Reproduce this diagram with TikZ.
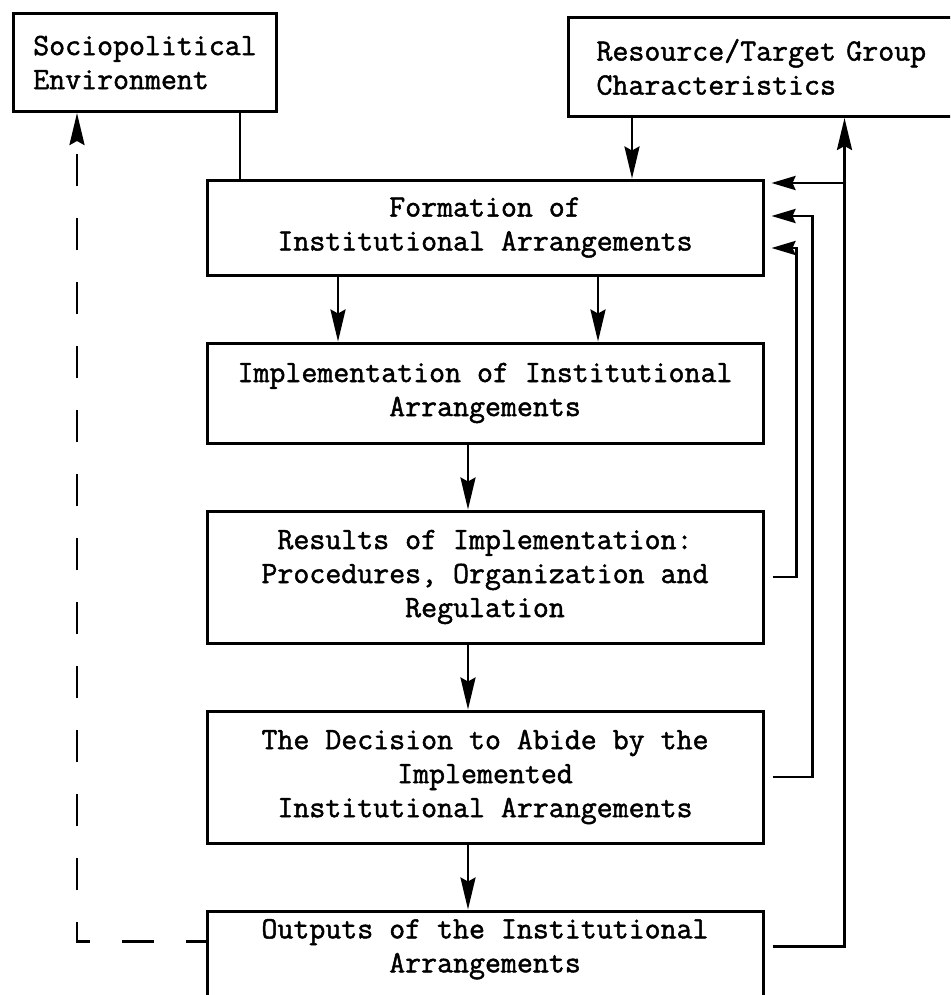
\documentclass[tikz,border=0pt]{standalone}
\usepackage{fontspec}
\newfontfamily\typewr{Latin Modern Mono}[FakeBold=1.5]
\usetikzlibrary{positioning,arrows.meta}

\begin{document}
\begin{tikzpicture}[x=0.5pt,y=-0.5pt,>={Stealth[length=16pt,width=7.5pt,inset=2pt]},
   line width=1.4pt,node distance=32.5pt,
   every node/.style={font=\typewr\fontsize{15.5pt}{17pt}\selectfont},
   stage/.style={draw,line width=1.5pt,minimum width=278pt,align=center,inner sep=4pt},
   factor/.style={draw,line width=1.5pt,align=left,anchor=north west},
   fb/.style={->,shorten <=4pt,shorten >=3.5pt,>={Stealth[length=12pt,width=7pt,inset=1.5pt]}},
   dashback/.style={dash pattern=on 16pt off 16pt,dash phase=6pt}]
 \useasboundingbox (0,0) rectangle (950,995);
 \clip (0,0) rectangle (950,995);
 % outside factors
 \node[factor,minimum width=131.5pt,minimum height=49pt] (socio) at (12,12) {Sociopolitical\\Environment};
 \node[factor,text width=182pt,inner xsep=14pt,minimum height=49.5pt] (resource) at (567,16) {Resource/Target Group\\Characteristics};
 % main chain
 \node[stage,minimum height=47.5pt] (formation) at (485,227.5) {Formation of\\Institutional Arrangements};
 \node[stage,minimum height=50pt,below=of formation] (impl) {Implementation of Institutional\\Arrangements};
 \node[stage,minimum height=66pt,below=of impl] (results) {Results of Implementation:\\Procedures, Organization and\\Regulation};
 \node[stage,minimum height=66pt,below=of results] (decision) {The Decision to Abide by the\\Implemented\\Institutional Arrangements};
 \node[stage,minimum height=47pt,below=of decision] (outputs) {Outputs of the Institutional\\Arrangements\vphantom{\strut}\\[-4pt]};
 % feedback columns
 \coordinate (col1) at ([xshift=16pt]formation.east);
 \coordinate (col2) at ([xshift=24pt]formation.east);
 \coordinate (col3) at ([xshift=40pt]formation.east);
 \coordinate (fbtop) at ([yshift=22.25pt]formation.east);
 \coordinate (dl) at ([xshift=32.5pt]socio.south west);
 \draw ([xshift=-122.5pt]formation.north |- socio.south) -- ([xshift=-122.5pt]formation.north);
 \draw[->] ([xshift=73.5pt]formation.north |- resource.south) -- ([xshift=73.5pt]formation.north);
 \draw[->] ([xshift=-73.5pt]formation.south) -- ([xshift=-73.5pt]impl.north);
 \draw[->] ([xshift=56.5pt]formation.south) -- ([xshift=56.5pt]impl.north);
 \draw[->] ([xshift=-8.5pt]impl.south) -- ([xshift=-8.5pt]results.north);
 \draw[->] ([xshift=-8.5pt]results.south) -- ([xshift=-8.5pt]decision.north);
 \draw[->] ([xshift=-8.5pt]decision.south) -- ([xshift=-8.5pt]outputs.north);
 \draw[fb] (results.east) -- (results.east -| col1) |- ([yshift=-10.25pt]formation.east);
 \draw[fb] (decision.east) -- (decision.east -| col2) |- ([yshift=5.75pt]formation.east);
 \draw[->,shorten <=4pt] ([yshift=6pt]outputs.east) -- ([yshift=6pt]outputs.east -| col3) -- (col3 |- resource.south);
 \draw[fb,shorten <=0pt] (col3 |- fbtop) -- (fbtop);
 \draw[dashback,->] ([yshift=8.5pt]outputs.west) -| (dl);
\end{tikzpicture}
\end{document}
